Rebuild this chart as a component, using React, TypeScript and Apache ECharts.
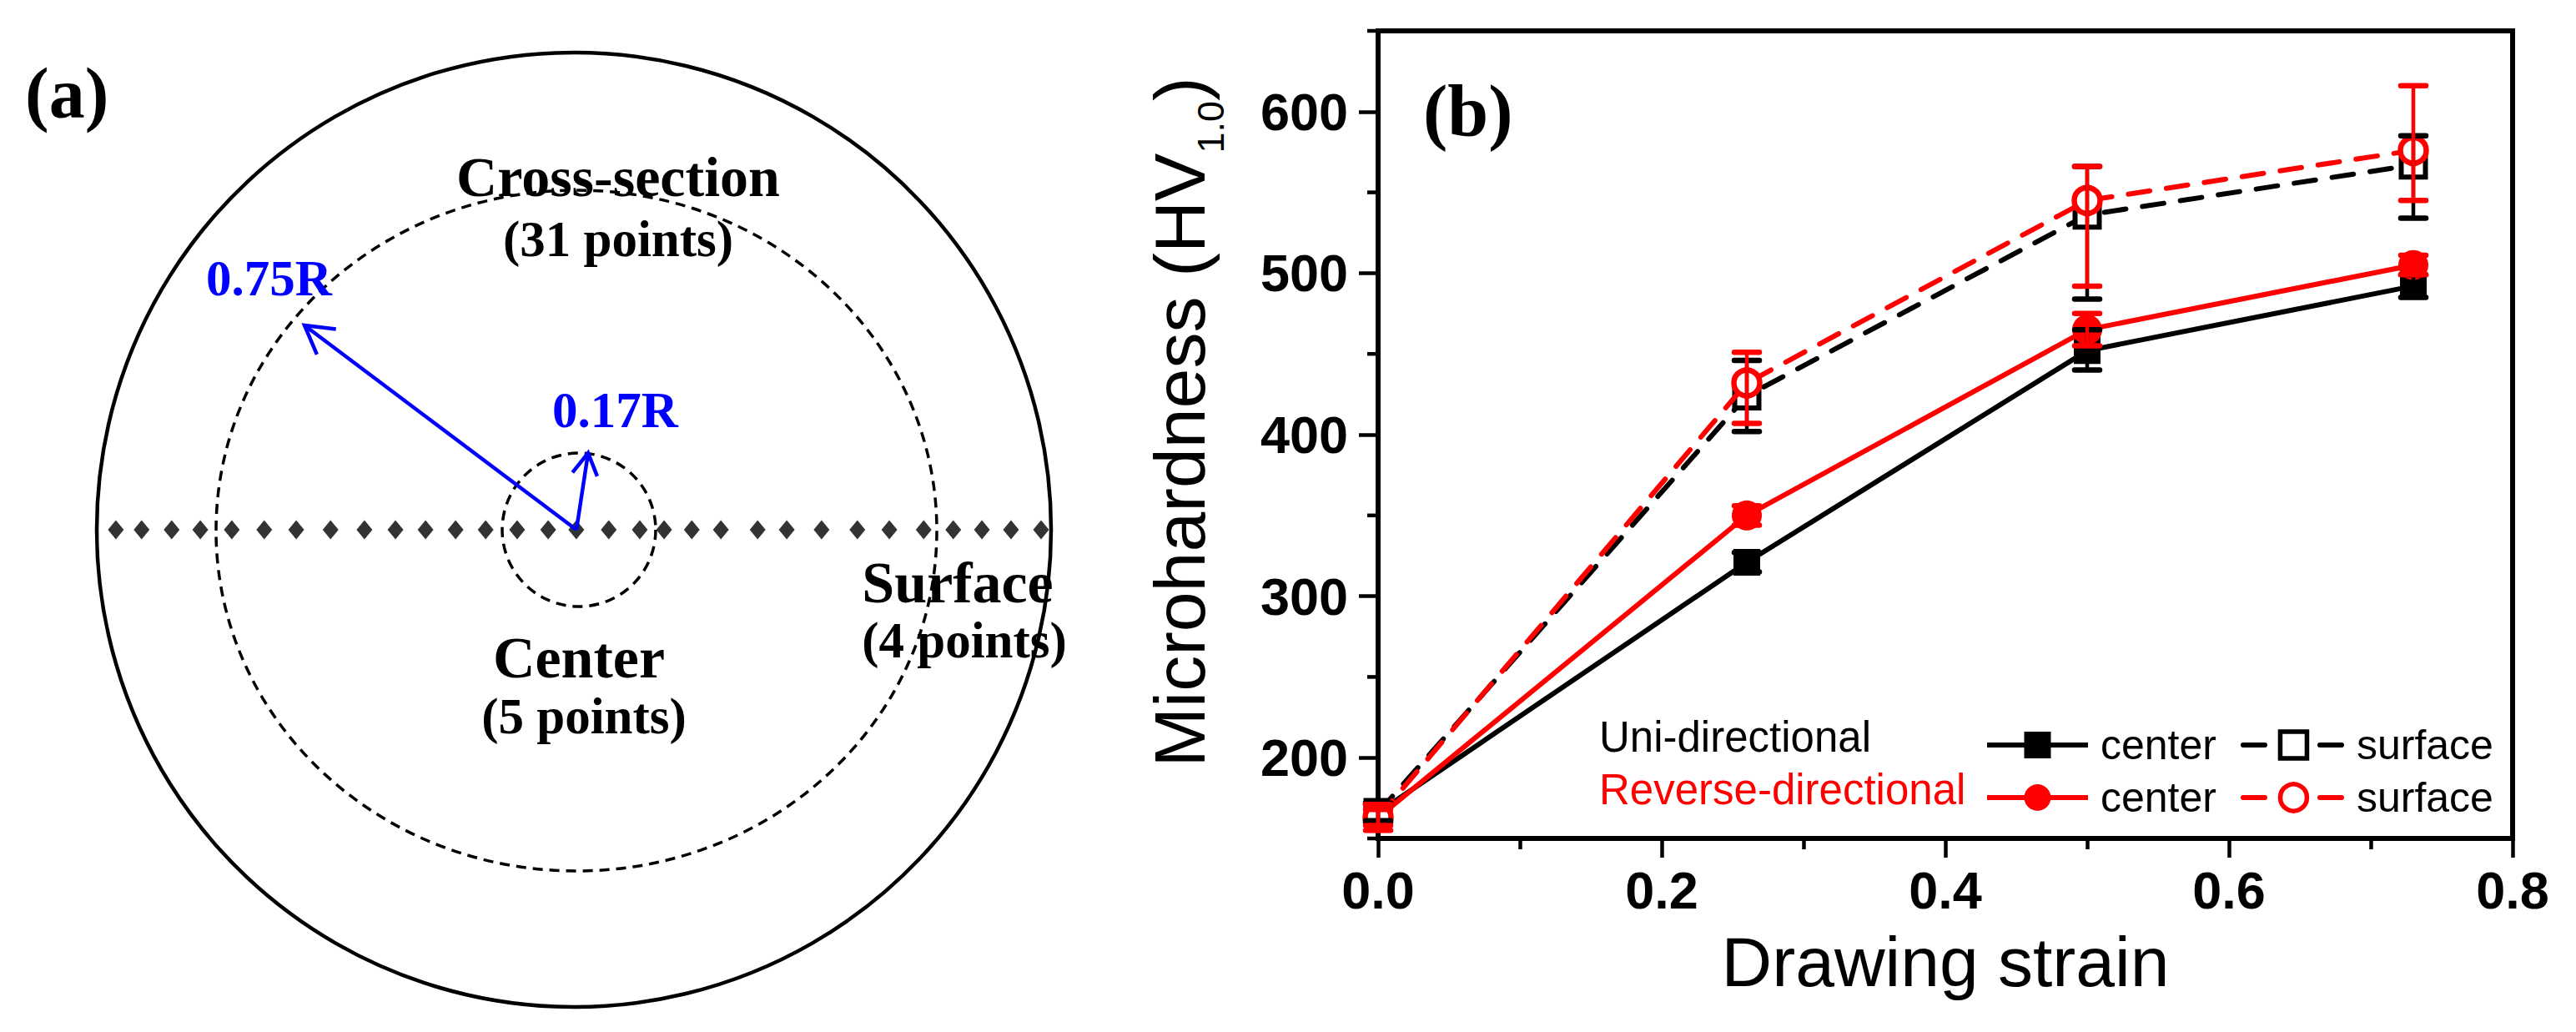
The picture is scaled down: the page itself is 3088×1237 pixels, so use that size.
import React, { useEffect, useRef } from 'react';
import * as echarts from 'echarts';

// ---------- Panel (b) data ----------
const strain = [0, 0.26, 0.5, 0.73];

const uniCenter = [166, 321, 452, 492];
const uniCenterLow = [161, 315, 440, 485];
const uniCenterHigh = [171, 327, 465, 499];

const uniSurface = [166, 424, 536, 567];
const uniSurfaceLow = [160, 402, 484, 534];
const uniSurfaceHigh = [172, 446, 566, 585];

const revCenter = [163, 350, 465, 505];
const revCenterLow = [158, 344, 455, 499];
const revCenterHigh = [168, 356, 475, 511];

const revSurface = [163, 432, 545, 576];
const revSurfaceLow = [155, 407, 492, 545];
const revSurfaceHigh = [171, 451, 566, 616];

const yMajorTicks = [200, 300, 400, 500, 600];
const yMinorTicks = [150, 250, 350, 450, 550, 650];

// ---------- Panel (a) data: measuring points along the diameter (units of R) ----------
const pointPositions = [
  -0.96, -0.906, -0.843, -0.783, -0.717, -0.649, -0.582, -0.51, -0.439, -0.374, -0.311,
  -0.248, -0.185, -0.119, -0.054, 0.005, 0.073, 0.138, 0.189, 0.247, 0.308, 0.385, 0.446,
  0.519, 0.594, 0.661, 0.733, 0.795, 0.855, 0.916, 0.979,
];

const SANS = '"Liberation Sans", Arial, sans-serif';
const SERIF = '"Liberation Serif", "Times New Roman", serif';
const RED = '#ff0000';
const BLUE = '#0000ff';

const zip = (xs: number[], ys: number[]) => xs.map((x, i) => [x, ys[i]]);

function errSeries(name: string, lo: number[], hi: number[], color: string, z: number) {
  return {
    type: 'custom',
    name,
    xAxisIndex: 0,
    yAxisIndex: 0,
    z,
    silent: true,
    data: strain.map((x, i) => [x, lo[i], hi[i]]),
    encode: { x: 0, y: [1, 2] },
    renderItem: (_params: any, api: any) => {
      const x = api.value(0);
      const a = api.coord([x, api.value(1)]);
      const b = api.coord([x, api.value(2)]);
      const hw = 15;
      const st = { stroke: color, lineWidth: 4.5, lineCap: 'round' };
      const cap = { stroke: color, lineWidth: 6.5, lineCap: 'round' };
      return {
        type: 'group',
        children: [
          { type: 'line', shape: { x1: a[0], y1: a[1], x2: b[0], y2: b[1] }, style: st },
          { type: 'line', shape: { x1: a[0] - hw, y1: a[1], x2: a[0] + hw, y2: a[1] }, style: cap },
          { type: 'line', shape: { x1: b[0] - hw, y1: b[1], x2: b[0] + hw, y2: b[1] }, style: cap },
        ],
      };
    },
  };
}

function arrow(x1: number, y1: number, x2: number, y2: number, head: number) {
  const dx = x1 - x2;
  const dy = y1 - y2;
  const len = Math.sqrt(dx * dx + dy * dy);
  const ux = dx / len;
  const uy = dy / len;
  const c = Math.cos(Math.PI / 6);
  const s = Math.sin(Math.PI / 6);
  const p1 = [x2 + head * (c * ux - s * uy), y2 + head * (s * ux + c * uy)];
  const p2 = [x2 + head * (c * ux + s * uy), y2 + head * (-s * ux + c * uy)];
  const st = { stroke: BLUE, lineWidth: 4.5, fill: 'none' };
  return [
    { type: 'line', shape: { x1, y1, x2, y2 }, style: st, z: 5 },
    { type: 'polyline', shape: { points: [p1, [x2, y2], p2] }, style: st, z: 5 },
  ];
}

function txt(text: string, x: number, y: number, font: string, fill: string, align = 'center') {
  return {
    type: 'text',
    x,
    y,
    z: 6,
    style: {
      text,
      font,
      fill,
      textAlign: align,
      textVerticalAlign: 'middle',
      align,
      verticalAlign: 'middle',
    },
  };
}

function legendRow(names: string[], top: number) {
  return {
    data: names,
    left: 2374,
    top,
    orient: 'horizontal',
    itemWidth: 121,
    itemHeight: 40,
    itemGap: 29,
    selectedMode: false,
    formatter: (n: string) => n.split(' ')[1],
    lineStyle: { width: 6 },
    itemStyle: { borderWidth: 5.5 },
    textStyle: { fontSize: 50, fontFamily: SANS, color: '#000', padding: [0, 0, 0, 10] },
  };
}

export default function App() {
  const ref = useRef<HTMLDivElement>(null);

  useEffect(() => {
    if (!ref.current) return;
    const chart = echarts.init(ref.current, undefined, { renderer: 'svg' });

    const dash = { stroke: '#000', lineWidth: 3.5, fill: 'none', lineDash: [12, 8] };

    const option: any = {
      animation: false,
      backgroundColor: '#ffffff',
      grid: [
        {
          left: 1652,
          top: 37,
          width: 1360,
          height: 968,
          show: true,
          borderColor: '#000',
          borderWidth: 6,
          backgroundColor: 'transparent',
        },
        { left: 116, top: 63, width: 1144, height: 1144 },
      ],
      xAxis: [
        {
          type: 'value',
          gridIndex: 0,
          min: 0,
          max: 0.8,
          interval: 0.2,
          axisLine: { show: true, lineStyle: { color: '#000', width: 6 } },
          axisTick: { show: true, length: 23, lineStyle: { color: '#000', width: 4.5 } },
          minorTick: { show: true, splitNumber: 2, length: 13, lineStyle: { color: '#000', width: 4.5 } },
          splitLine: { show: false },
          minorSplitLine: { show: false },
          axisLabel: {
            fontSize: 63,
            fontWeight: 'bold',
            fontFamily: SANS,
            color: '#000',
            margin: 30,
            formatter: (v: number) => v.toFixed(1),
          },
          name: 'Drawing strain',
          nameLocation: 'middle',
          nameGap: 106,
          nameTextStyle: { fontSize: 84, fontFamily: SANS, color: '#000' },
        },
        { type: 'value', gridIndex: 1, min: -1, max: 1, show: false },
      ],
      yAxis: [
        {
          type: 'value',
          gridIndex: 0,
          position: 'left',
          min: 150,
          max: 650,
          interval: 50,
          axisLine: { show: true, lineStyle: { color: '#000', width: 6 } },
          axisTick: { show: true, length: 23, customValues: yMajorTicks, lineStyle: { color: '#000', width: 4.5 } },
          splitLine: { show: false },
          axisLabel: {
            customValues: yMajorTicks,
            fontSize: 63,
            fontWeight: 'bold',
            fontFamily: SANS,
            color: '#000',
            margin: 36,
            formatter: (v: number) => (v % 100 === 0 ? String(v) : ''),
          },
          name: '{m|Microhardness (HV}{s|1.0}{m|)}',
          nameLocation: 'middle',
          nameRotate: 90,
          nameGap: 178,
          nameTextStyle: {
            color: '#000',
            fontFamily: SANS,
            padding: [0, 0, 0, 30],
            rich: {
              m: { fontSize: 86, fontFamily: SANS, color: '#000', lineHeight: 120, verticalAlign: 'middle' },
              s: { fontSize: 45, fontFamily: SANS, color: '#000', lineHeight: 120, verticalAlign: 'bottom' },
            },
          },
        },
        { type: 'value', gridIndex: 1, min: -1, max: 1, show: false },
      ],
      legend: [legendRow(['Uni center', 'Uni surface'], 863), legendRow(['Rev center', 'Rev surface'], 926)],
      series: [
        {
          type: 'custom',
          name: 'minor ticks',
          xAxisIndex: 0,
          yAxisIndex: 0,
          silent: true,
          clip: false,
          z: 2,
          data: yMinorTicks.map((v) => [0, v]),
          encode: { x: 0, y: 1 },
          renderItem: (_p: any, api: any) => {
            const c = api.coord([api.value(0), api.value(1)]);
            return {
              type: 'line',
              shape: { x1: c[0] - 13, y1: c[1], x2: c[0], y2: c[1] },
              style: { stroke: '#000', lineWidth: 4.5 },
            };
          },
        },
        {
          type: 'line',
          name: 'Uni center',
          xAxisIndex: 0,
          yAxisIndex: 0,
          data: zip(strain, uniCenter),
          symbol: 'rect',
          symbolSize: 32,
          itemStyle: { color: '#000' },
          lineStyle: { color: '#000', width: 6 },
          z: 3,
        },
        {
          type: 'line',
          name: 'Uni surface',
          xAxisIndex: 0,
          yAxisIndex: 0,
          data: zip(strain, uniSurface),
          symbol: 'rect',
          symbolSize: 29,
          itemStyle: { color: '#fff', borderColor: '#000', borderWidth: 6 },
          lineStyle: { color: '#000', width: 6, type: [26, 20], cap: 'round' },
          z: 3,
        },
        {
          type: 'line',
          name: 'Rev center',
          xAxisIndex: 0,
          yAxisIndex: 0,
          data: zip(strain, revCenter),
          symbol: 'circle',
          symbolSize: 36,
          itemStyle: { color: RED },
          lineStyle: { color: RED, width: 6 },
          z: 4,
        },
        {
          type: 'line',
          name: 'Rev surface',
          xAxisIndex: 0,
          yAxisIndex: 0,
          data: zip(strain, revSurface),
          symbol: 'circle',
          symbolSize: 31,
          itemStyle: { color: '#fff', borderColor: RED, borderWidth: 6.5 },
          lineStyle: { color: RED, width: 6, type: [26, 20], cap: 'round' },
          z: 4,
        },
        errSeries('err uni center', uniCenterLow, uniCenterHigh, '#000', 5),
        errSeries('err uni surface', uniSurfaceLow, uniSurfaceHigh, '#000', 5),
        errSeries('err rev center', revCenterLow, revCenterHigh, RED, 6),
        errSeries('err rev surface', revSurfaceLow, revSurfaceHigh, RED, 6),
        {
          type: 'scatter',
          name: 'points',
          xAxisIndex: 1,
          yAxisIndex: 1,
          data: pointPositions.map((p) => [p, 0]),
          symbol: 'diamond',
          symbolSize: [19, 23],
          itemStyle: { color: '#000' },
          z: 4,
        },
      ],
      graphic: [
        { type: 'circle', shape: { cx: 688, cy: 635, r: 572 }, style: { stroke: '#000', lineWidth: 4.5, fill: 'none' }, z: 1 },
        { type: 'ellipse', shape: { cx: 691, cy: 636, rx: 432, ry: 408 }, style: dash, z: 1 },
        { type: 'circle', shape: { cx: 694, cy: 635, r: 92 }, style: dash, z: 1 },
        ...arrow(691, 635, 365, 390, 38),
        ...arrow(691, 635, 705, 543, 30),
        txt('(a)', 30, 112, `bold 86px ${SERIF}`, '#000', 'left'),
        txt('Cross-section', 741, 212, `bold 68px ${SERIF}`, '#000'),
        txt('(31 points)', 741, 286, `bold 61px ${SERIF}`, '#000'),
        txt('Center', 694, 788, `bold 70px ${SERIF}`, '#000'),
        txt('(5 points)', 700, 858, `bold 61px ${SERIF}`, '#000'),
        txt('Surface', 1148, 698, `bold 70px ${SERIF}`, '#000'),
        txt('(4 points)', 1156, 767, `bold 61px ${SERIF}`, '#000'),
        txt('0.75R', 247, 333, `bold 61px ${SERIF}`, BLUE, 'left'),
        txt('0.17R', 662, 491, `bold 61px ${SERIF}`, BLUE, 'left'),
        txt('(b)', 1706, 133, `bold 88px ${SERIF}`, '#000', 'left'),
        txt('Uni-directional', 1917, 883, `51px ${SANS}`, '#000', 'left'),
        txt('Reverse-directional', 1917, 946, `51px ${SANS}`, RED, 'left'),
      ],
    };

    chart.setOption(option);
    return () => chart.dispose();
  }, []);

  return (
    <div
      ref={ref}
      style={{ position: 'absolute', left: 0, top: 0, width: 3088, height: 1237, background: '#fff' }}
    />
  );
}
